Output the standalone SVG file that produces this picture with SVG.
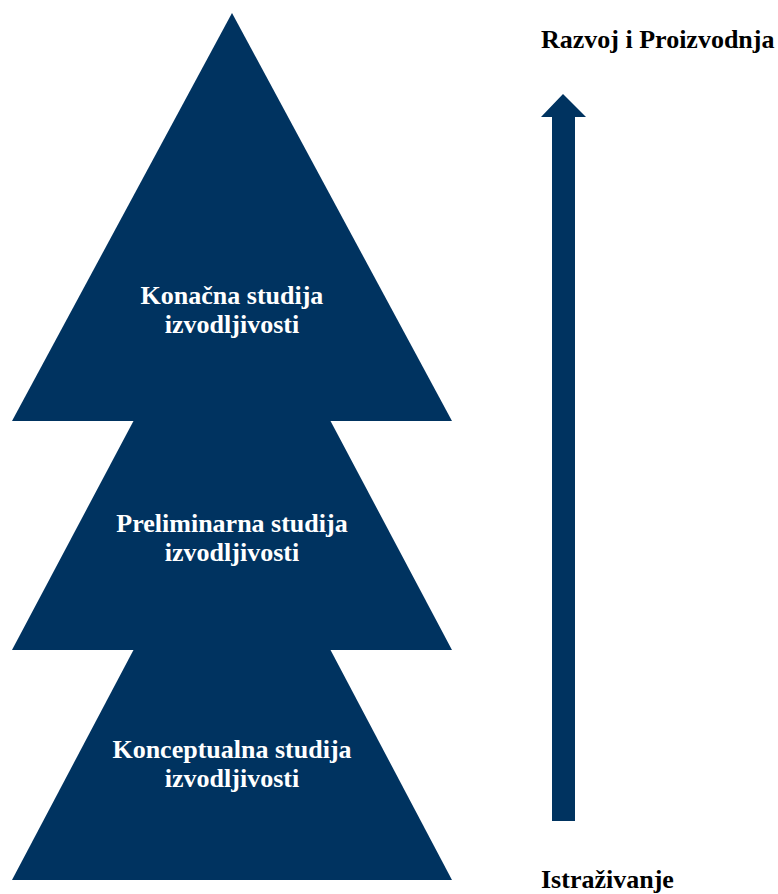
<svg xmlns="http://www.w3.org/2000/svg" width="778" height="894" viewBox="0 0 778 894">
<style>
.tier{fill:#003360}
.lbl{font-family:"Liberation Serif","Times New Roman",serif;font-weight:bold;font-size:26px;text-anchor:middle;fill:#ffffff}
.side{font-family:"Liberation Serif","Times New Roman",serif;font-weight:bold;font-size:26px;fill:#000000}
</style>
<rect width="778" height="894" fill="#ffffff"/>
<g id="tier-top">
<polygon class="tier" points="232,13 452,421 12,421"/>
<text class="lbl" x="232" y="304">Konačna studija</text>
<text class="lbl" x="232" y="333">izvodljivosti</text>
</g>
<g id="tier-middle">
<polygon class="tier" points="134,420 330,420 452,650 12,650"/>
<text class="lbl" x="232" y="532">Preliminarna studija</text>
<text class="lbl" x="232" y="561">izvodljivosti</text>
</g>
<g id="tier-bottom">
<polygon class="tier" points="134,649 330,649 452,880 12,880"/>
<text class="lbl" x="232" y="758">Konceptualna studija</text>
<text class="lbl" x="232" y="787">izvodljivosti</text>
</g>
<g id="connectors">
<polygon class="tier" points="563,94 586,117 575,117 575,821 552,821 552,117 541,117"/>
</g>
<g id="label-top">
<text class="side" x="541" y="48">Razvoj i Proizvodnja</text>
</g>
<g id="label-bottom">
<text class="side" x="541" y="888">Istraživanje</text>
</g>
</svg>
